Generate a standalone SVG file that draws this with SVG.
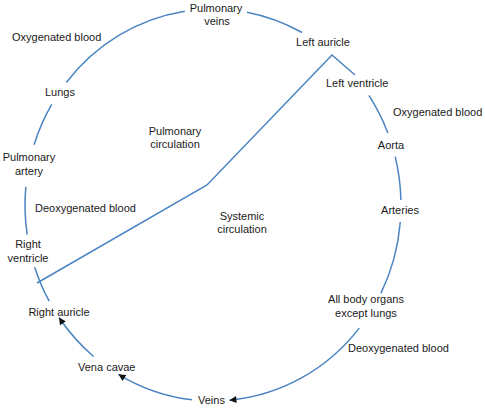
<svg xmlns="http://www.w3.org/2000/svg" width="485" height="408" viewBox="0 0 485 408">
<style>
text{font-family:"Liberation Sans",Arial,sans-serif;font-size:11px;fill:#1a1a1a}
.m{text-anchor:middle}
.c{fill:none;stroke:#4a84c2;stroke-width:1.5}
</style>
<defs>
<marker id="ah" viewBox="0 0 10 10" refX="10" refY="5" markerWidth="8" markerHeight="7" markerUnits="userSpaceOnUse" orient="auto">
<path d="M0,0 L10,5 L0,10 z" fill="#111"/>
</marker>
</defs>
<rect width="485" height="408" fill="#fff"/>
<g id="connectors">
<path class="c" d="M66.3,82.5 A188,196 0 0 1 184.9,11.2"/>
<path class="c" d="M246.9,12.2 A188,196 0 0 1 302.1,32.5"/>
<path class="c" d="M368.9,95.4 A188,196 0 0 1 387.8,132.9"/>
<path class="c" d="M395.2,156.6 A188,196 0 0 1 400.9,199.9"/>
<path class="c" d="M400.3,222 A188,196 0 0 1 380.9,293.4"/>
<path class="c" d="M359.3,328.1 A188,196 0 0 1 229.4,400.2" marker-end="url(#ah)"/>
<path class="c" d="M192,399.8 A188,196 0 0 1 118.4,374.3" marker-end="url(#ah)"/>
<path class="c" d="M93.6,356.5 A188,196 0 0 1 59,317.5" marker-end="url(#ah)"/>
<path class="c" d="M49.2,301.2 A188,196 0 0 1 34.7,267.2"/>
<path class="c" d="M27.2,234.7 A188,196 0 0 1 25.8,186.9"/>
<path class="c" d="M34.1,144.7 A188,196 0 0 1 51.7,104.4"/>
<path class="c" d="M37,283 L207,185 L332,55 L355,75"/>
</g>
<g id="pulmonary-veins"><text class="m" x="216" y="12">Pulmonary</text><text class="m" x="217" y="25">veins</text></g>
<g id="oxygenated-left"><text x="12" y="41">Oxygenated blood</text></g>
<g id="lungs"><text class="m" x="60" y="96">Lungs</text></g>
<g id="pulmonary-circulation"><text class="m" x="175" y="135">Pulmonary</text><text class="m" x="175" y="148">circulation</text></g>
<g id="pulmonary-artery"><text class="m" x="29" y="161">Pulmonary</text><text class="m" x="29" y="175">artery</text></g>
<g id="deoxygenated-left"><text x="35" y="212">Deoxygenated blood</text></g>
<g id="right-ventricle"><text class="m" x="28" y="248">Right</text><text class="m" x="28" y="262">ventricle</text></g>
<g id="right-auricle"><text class="m" x="59" y="316">Right auricle</text></g>
<g id="vena-cavae"><text x="78" y="371">Vena cavae</text></g>
<g id="veins"><text x="198" y="404">Veins</text></g>
<g id="systemic-circulation"><text class="m" x="242" y="220">Systemic</text><text class="m" x="242" y="233">circulation</text></g>
<g id="left-auricle"><text class="m" x="323" y="46">Left auricle</text></g>
<g id="left-ventricle"><text x="326" y="87">Left ventricle</text></g>
<g id="oxygenated-right"><text x="393" y="116">Oxygenated blood</text></g>
<g id="aorta"><text class="m" x="391" y="149">Aorta</text></g>
<g id="arteries"><text class="m" x="400" y="214">Arteries</text></g>
<g id="body-organs"><text class="m" x="366" y="303">All body organs</text><text class="m" x="366" y="317">except lungs</text></g>
<g id="deoxygenated-right"><text x="348" y="352">Deoxygenated blood</text></g>
</svg>
